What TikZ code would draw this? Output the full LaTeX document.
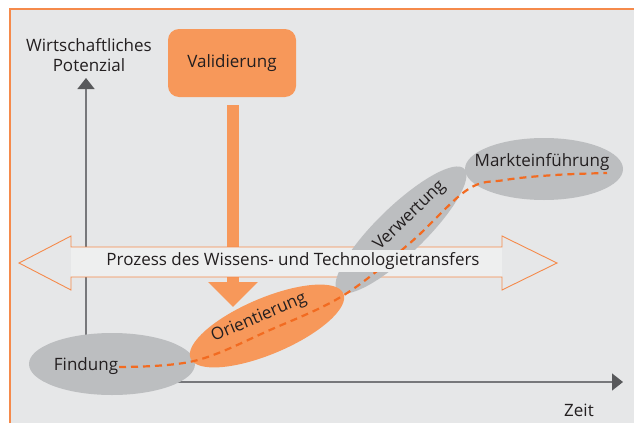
\documentclass[tikz,border=0pt]{standalone}
\usepackage{fontspec}
\setmainfont{Open Sans}
\usetikzlibrary{shapes.geometric,arrows.meta}
\definecolor{bg}{HTML}{E6E7E8}
\definecolor{bandfill}{HTML}{EEEFEF}
\definecolor{framecol}{HTML}{F58A4B}
\definecolor{ofill}{HTML}{F7985A}
\definecolor{odash}{HTML}{F26B21}
\definecolor{gfill}{HTML}{BCBEC0}
\definecolor{axiscol}{HTML}{77787B}
\definecolor{axhead}{HTML}{58595B}
\definecolor{txt}{HTML}{231F20}
\tikzset{
  lbl/.style={text=txt, inner sep=0pt},
  phase/.style={ellipse, inner sep=0pt},
  axisline/.style={draw=axiscol, line width=1.3pt, -{Triangle[length=11pt,width=17pt,color=axhead]}},
}
\begin{document}
\begin{tikzpicture}[x=1pt,y=-1pt,font=\fontsize{17}{20}\selectfont]
\useasboundingbox (0,0) rectangle (634,423);
\fill[white] (0,0) rectangle (634,423);
\fill[bg] (10,9) rectangle (634,423);
\draw[framecol, line width=1.5pt] (10,423) -- (10,9) -- (634,9);

% axes
\coordinate (orig) at (86,382);
\coordinate (ytip) at (86,78);
\coordinate (xtip) at (623,382);
\draw[axisline] (orig) -- (ytip);
\draw[axisline] (orig) -- (xtip);
\node[lbl, align=center] (ylab) at (89,55) {Wirtschaftliches\\Potenzial};
\node[lbl] (zeit) at (579,410) {Zeit};

% Validierung box and arrow
\node[fill=ofill, rounded corners=11pt, minimum width=128pt, minimum height=68pt, text=txt] (val) at (232,63) {Validierung};
\coordinate (stop) at (233,105);
\coordinate (stip) at (233,307);
\draw[ofill, line width=12pt, -{Triangle[length=25pt,width=48pt]}] (stop) -- (stip);

% double arrow band
\fill[bandfill] (71,247) rectangle (502,277);
\draw[framecol, line width=0.9pt, line join=miter]
  (19,263) -- (71,236) -- (71,247) -- (502,247) -- (502,236) -- (557,263)
  -- (502,290) -- (502,277) -- (71,277) -- (71,290) -- cycle;

% phases
\node[phase, fill=gfill, minimum width=166pt, minimum height=62pt] (find) at (112,364) {};
\node[phase, fill=gfill, minimum width=176pt, minimum height=48pt, rotate=44] (verw) at (401,230) {};
\node[phase, fill=gfill, minimum width=158pt, minimum height=62pt] (markt) at (544,169) {};
\node[phase, fill=ofill, minimum width=166pt, minimum height=56pt, rotate=23] (orie) at (267,326) {};

% dashed curve
\draw[odash, line width=2.2pt, dash pattern=on 7pt off 5pt]
  plot[smooth, tension=0.6] coordinates {(119,367) (194,361) (270,330) (344,295) (410,243) (467,190) (505,180) (555,175) (607,173)};

% texts
\node[lbl] (findtxt) at (86,366) {Findung};
\node[lbl, rotate=23] (orietxt) at (259,318) {Orientierung};
\node[lbl, rotate=44] (verwtxt) at (410,216) {Verwertung};
\node[lbl] (markttxt) at (542,162) {Markteinführung};
\node[lbl, fill=bandfill, inner xsep=2pt, inner ysep=2pt] (band) at (293,261) {Prozess des Wissens- und Technologietransfers};
\end{tikzpicture}
\end{document}
